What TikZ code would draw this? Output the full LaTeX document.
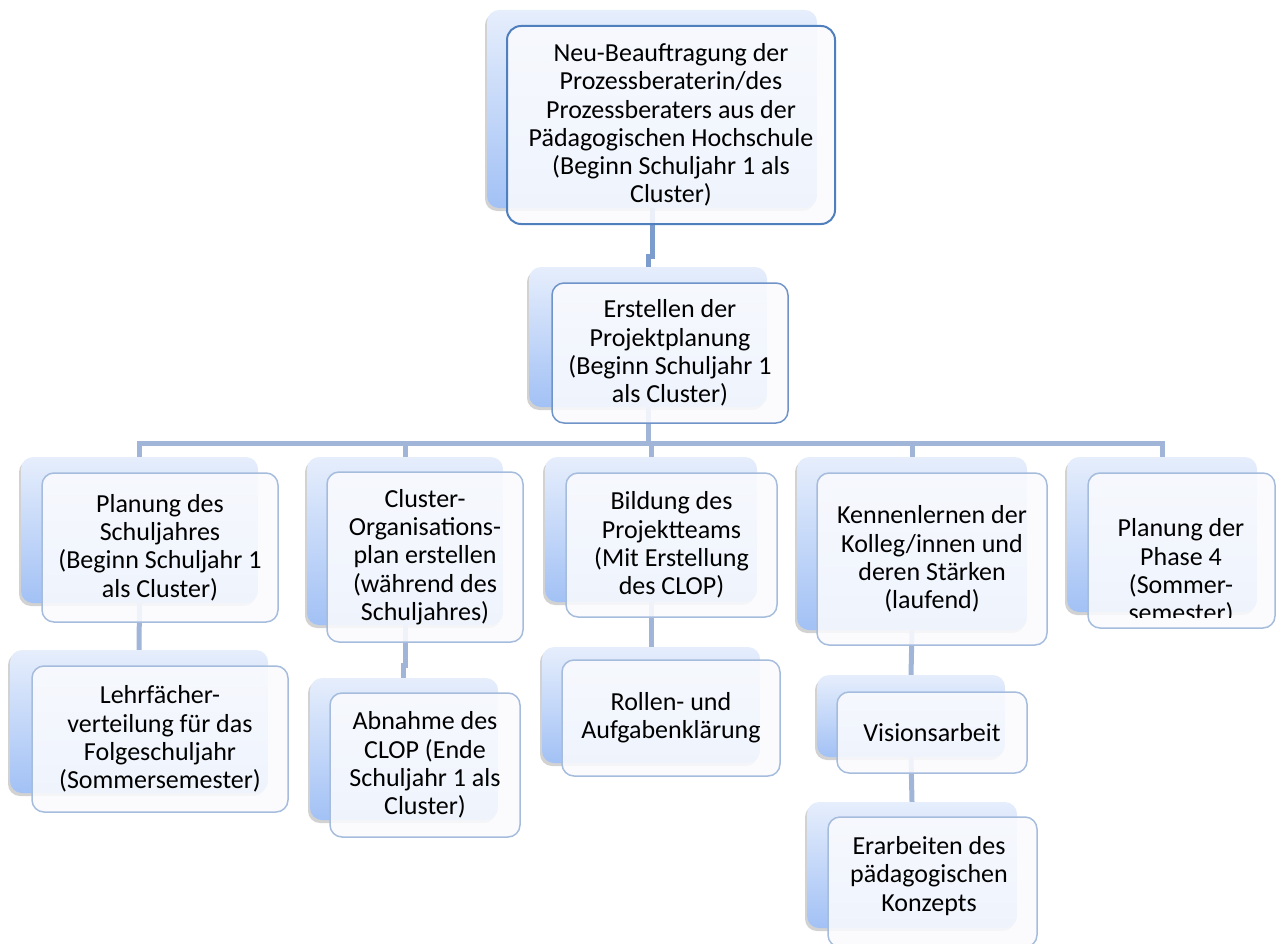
\documentclass[tikz,border=0pt]{standalone}
\usepackage{fontspec}
\setmainfont{Carlito}
\usetikzlibrary{shadows,calc}
\definecolor{conn}{HTML}{A0B5D8}
\definecolor{conntop}{HTML}{7C9CCE}
\definecolor{backtop}{HTML}{E6EEFC}
\definecolor{backbot}{HTML}{A2C1F5}
\definecolor{frontfill}{HTML}{FAFBFE}
\definecolor{lineA}{HTML}{4F7FBC}
\definecolor{lineB}{HTML}{7094C8}
\definecolor{lineC}{HTML}{A6BCDD}
\tikzset{
  backbox/.style={rectangle, rounded corners=12pt, inner sep=0pt, draw=none,
    top color=backtop, bottom color=backbot,
    drop shadow={shadow xshift=-2pt, shadow yshift=-3pt, opacity=0.25, fill=black!70}},
  frontbox/.style={rectangle, rounded corners=12pt, inner sep=0pt, draw=lineC,
    line width=1.5pt, fill=frontfill, fill opacity=0.88, text opacity=1,
    align=center, font=\fontsize{26}{28.3}\selectfont},
  boxtext/.style={align=center, inner sep=0pt, font=\fontsize{26}{28.3}\selectfont},
  link/.style={draw=conn, line width=5pt},
  toplink/.style={draw=conntop, line width=5pt},
}
\begin{document}
\begin{tikzpicture}[x=1pt,y=-1pt]
\useasboundingbox (0,0) rectangle (1276,944);
% ---------- back boxes
\node[backbox, minimum width=330pt, minimum height=198pt] (tb) at (652,109) {};
\node[backbox, minimum width=238pt, minimum height=140pt] (pb) at (648,337) {};
\node[backbox, minimum width=237pt, minimum height=146pt] (r1b) at (139.5,530) {};
\node[backbox, minimum width=196pt, minimum height=168pt] (r2b) at (405,541) {};
\node[backbox, minimum width=212pt, minimum height=145pt] (r3b) at (651,529.5) {};
\node[backbox, minimum width=230pt, minimum height=173pt] (r4b) at (912,543.5) {};
\node[backbox, minimum width=190pt, minimum height=155pt] (r5b) at (1162,534.5) {};
\node[backbox, minimum width=258pt, minimum height=143pt] (s1b) at (139,721.5) {};
\node[backbox, minimum width=188pt, minimum height=142pt] (s2b) at (404,749) {};
\node[backbox, minimum width=218pt, minimum height=116pt] (s3b) at (651,705) {};
\node[backbox, minimum width=188pt, minimum height=82pt] (s4b) at (911,716) {};
\node[backbox, minimum width=210pt, minimum height=126pt] (s5b) at (912,865) {};
% ---------- connectors
\coordinate (bus) at (0,443);
\coordinate (jog1) at (0,256);
\coordinate (jog2) at (0,665);
\draw[toplink] (tb.south) -- (tb.south |- jog1) -- (pb.north |- jog1) -- (pb.north);
\draw[link] (pb.south) -- (pb.south |- bus) -| (r1b.north);
\draw[link] (pb.south |- bus) -| (r2b.north);
\draw[link] (pb.south |- bus) -| (r3b.north);
\draw[link] (pb.south |- bus) -| (r4b.north);
\draw[link] (pb.south |- bus) -| (r5b.north);
\draw[link] (r1b.south) -- (s1b.north);
\draw[link] (r2b.south) -- (r2b.south |- jog2) -- ([xshift=-1pt]s2b.north |- jog2) -- ([xshift=-1pt]s2b.north);
\draw[link] (r3b.south) -- (s3b.north);
\draw[link] (r4b.south) -- (s4b.north);
\draw[link] (s4b.south) -- (s5b.north);
% ---------- front boxes
\node[frontbox, draw=lineA, line width=2pt, rounded corners=14pt, minimum width=328pt, minimum height=198pt] (t) at (671,125)
  {Neu-Beauftragung der\\Prozessberaterin/des\\Prozessberaters aus der\\Pädagogischen Hochschule\\(Beginn Schuljahr 1 als\\Cluster)};
\node[frontbox, draw=lineB, minimum width=236pt, minimum height=140pt] (p) at (670,353)
  {Erstellen der\\Projektplanung\\(Beginn Schuljahr 1\\als Cluster)};
\node[frontbox, minimum width=236pt, minimum height=149pt] (r1) at (160,547.5)
  {Planung des\\Schuljahres\\(Beginn Schuljahr 1\\als Cluster)};
\node[frontbox, minimum width=196pt, minimum height=170pt] (r2) at (425,557)
  {Cluster-\\Organisations-\\plan erstellen\\(während des\\Schuljahres)};
\node[frontbox, minimum width=211pt, minimum height=144pt] (r3) at (671.5,545)
  {Bildung des\\Projektteams\\(Mit Erstellung\\des CLOP)};
\node[frontbox, minimum width=230pt, minimum height=172pt] (r4) at (932,559)
  {Kennenlernen der\\Kolleg/innen und\\deren Stärken\\(laufend)};
\node[frontbox, minimum width=187pt, minimum height=155pt] (r5) at (1181.5,550.5) {};
\begin{scope}
  \clip (1088,473) rectangle (1276,617);
  \node[boxtext] (r5t) at (1181,572) {Planung der\\Phase 4\\(Sommer-\\semester)};
\end{scope}
\node[frontbox, minimum width=256pt, minimum height=146pt] (s1) at (160,739)
  {Lehrfächer-\\verteilung für das\\Folgeschuljahr\\(Sommersemester)};
\node[frontbox, minimum width=190pt, minimum height=144pt] (s2) at (425,765)
  {Abnahme des\\CLOP (Ende\\Schuljahr 1 als\\Cluster)};
\node[frontbox, minimum width=218pt, minimum height=116pt] (s3) at (671,718)
  {Rollen- und\\Aufgabenklärung};
\node[frontbox, minimum width=190pt, minimum height=81pt] (s4) at (932,732.5)
  {Visionsarbeit};
\node[frontbox, minimum width=209pt, minimum height=130pt] (s5) at (932.5,882) {};
\node[boxtext] (s5t) at (929,876) {Erarbeiten des\\pädagogischen\\Konzepts};
\end{tikzpicture}
\end{document}
